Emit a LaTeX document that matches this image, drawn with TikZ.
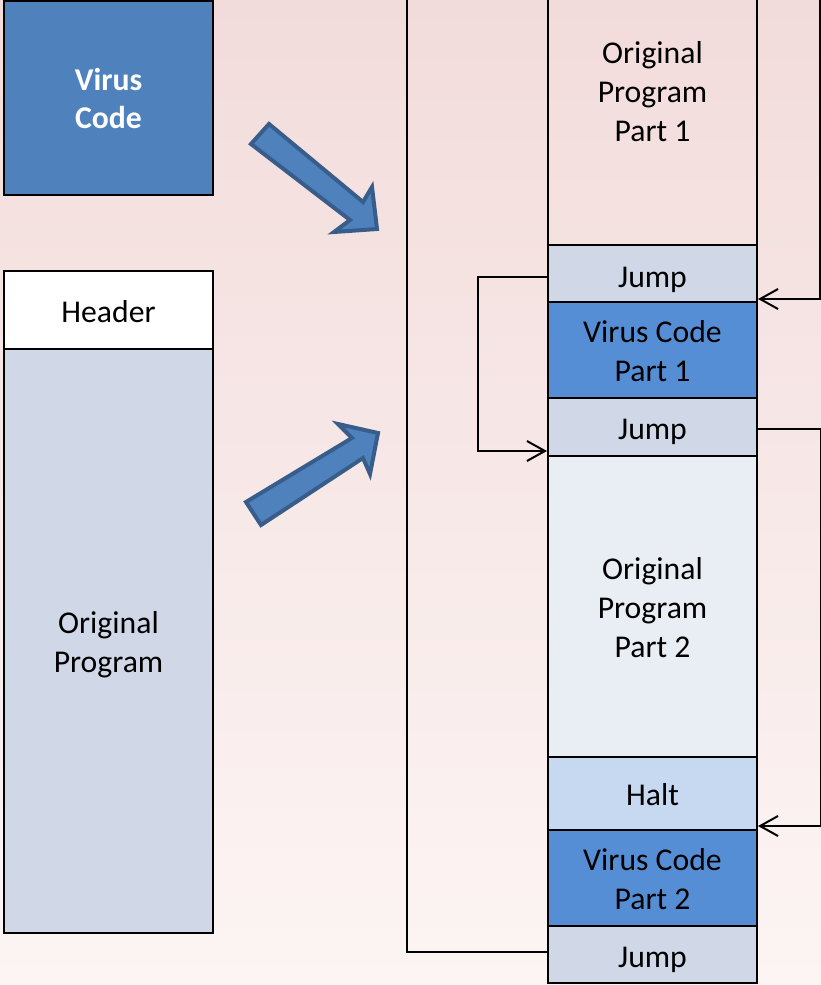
\documentclass[tikz,border=0pt]{standalone}
\usepackage{fontspec}
\setmainfont{Carlito}
\usetikzlibrary{arrows.meta}
\definecolor{bgtop}{HTML}{F2DCDB}
\definecolor{bgbot}{HTML}{FCF5F4}
\definecolor{virusblue}{HTML}{4F81BD}
\definecolor{arrowdraw}{HTML}{385D8A}
\definecolor{jumpfill}{HTML}{D0D8E8}
\definecolor{vcfill}{HTML}{558ED5}
\definecolor{opfill}{HTML}{E9EDF4}
\definecolor{haltfill}{HTML}{C6D9F1}
\begin{document}
\begin{tikzpicture}[x=1pt,y=-1pt,
  box/.style={draw=black, line width=2pt, minimum width=209pt, inner sep=0pt},
  txt/.style={inner sep=0pt, align=center, font=\fontsize{31.7}{39}\selectfont},
  conn/.style={draw=black, line width=2pt},
  arr/.style={conn, -{Straight Barb[length=18pt,width=20pt]}},
  blockarrow/.style={fill=virusblue, draw=arrowdraw, line width=4pt, line join=miter}
]
\useasboundingbox (0,0) rectangle (821,985);
\shade[top color=bgtop, middle color=bgtop, bottom color=bgbot] (0,0) rectangle (821,985);

% left column
\node[box, fill=virusblue, minimum height=194pt,
  label={[txt, text=white, font=\fontsize{31.7}{38}\selectfont\bfseries]center:{Virus\\Code}}] (virus) at (108.5,98) {};
\node[box, fill=white, minimum height=78pt,
  label={[txt, yshift=-2pt]center:Header}] (header) at (108.5,310) {};
\node[box, fill=jumpfill, minimum height=584pt,
  label={[txt, yshift=-4pt]center:{Original\\Program}}] (orig) at (108.5,641) {};

% right column
\node[box, minimum height=306pt,
  label={[txt]center:{Original\\Program\\Part 1}}] (op1) at (652.5,92) {};
\node[box, fill=jumpfill, minimum height=57pt,
  label={[txt, yshift=-6pt]center:Jump}] (j1) at (652.5,273.5) {};
\node[box, fill=vcfill, minimum height=96pt,
  label={[txt, yshift=-1pt]center:{Virus Code\\Part 1}}] (vc1) at (652.5,350) {};
\node[box, fill=jumpfill, minimum height=58pt,
  label={[txt, yshift=-5pt]center:Jump}] (j2) at (652.5,427) {};
\node[box, fill=opfill, minimum height=301pt,
  label={[txt, yshift=-1pt]center:{Original\\Program\\Part 2}}] (op2) at (652.5,606.5) {};
\node[box, fill=haltfill, minimum height=73pt,
  label={[txt, yshift=-1pt]center:Halt}] (halt) at (652.5,793.5) {};
\node[box, fill=vcfill, minimum height=96pt,
  label={[txt, yshift=-1pt]center:{Virus Code\\Part 2}}] (vc2) at (652.5,878) {};
\node[box, fill=jumpfill, minimum height=57pt,
  label={[txt, yshift=-5pt]center:Jump}] (j3) at (652.5,954.5) {};

% block arrows
\draw[blockarrow] (269,124) -- (363,202) -- (372,187) -- (377,229) -- (334,232) -- (350,220) -- (251,144) -- cycle;
\draw[blockarrow] (246,502) -- (352,438) -- (338,424) -- (378,433) -- (370,474) -- (363,458) -- (261,525) -- cycle;

% connectors
\coordinate (tr) at (820,-5);
\coordinate (tl) at (407,-5);
\draw[arr] ([yshift=-3.5pt]j1.west) -- ++(-69,0) |- ([yshift=6pt]j2.south west);
\draw[arr] (tr) |- ([yshift=2pt]vc1.north east);
\draw[arr] ([yshift=-2pt]j2.east) -- ++(63,0) |- ([yshift=3pt]vc2.north east);
\draw[conn] ([yshift=2.5pt]j3.west) -| (tl);
\end{tikzpicture}
\end{document}
